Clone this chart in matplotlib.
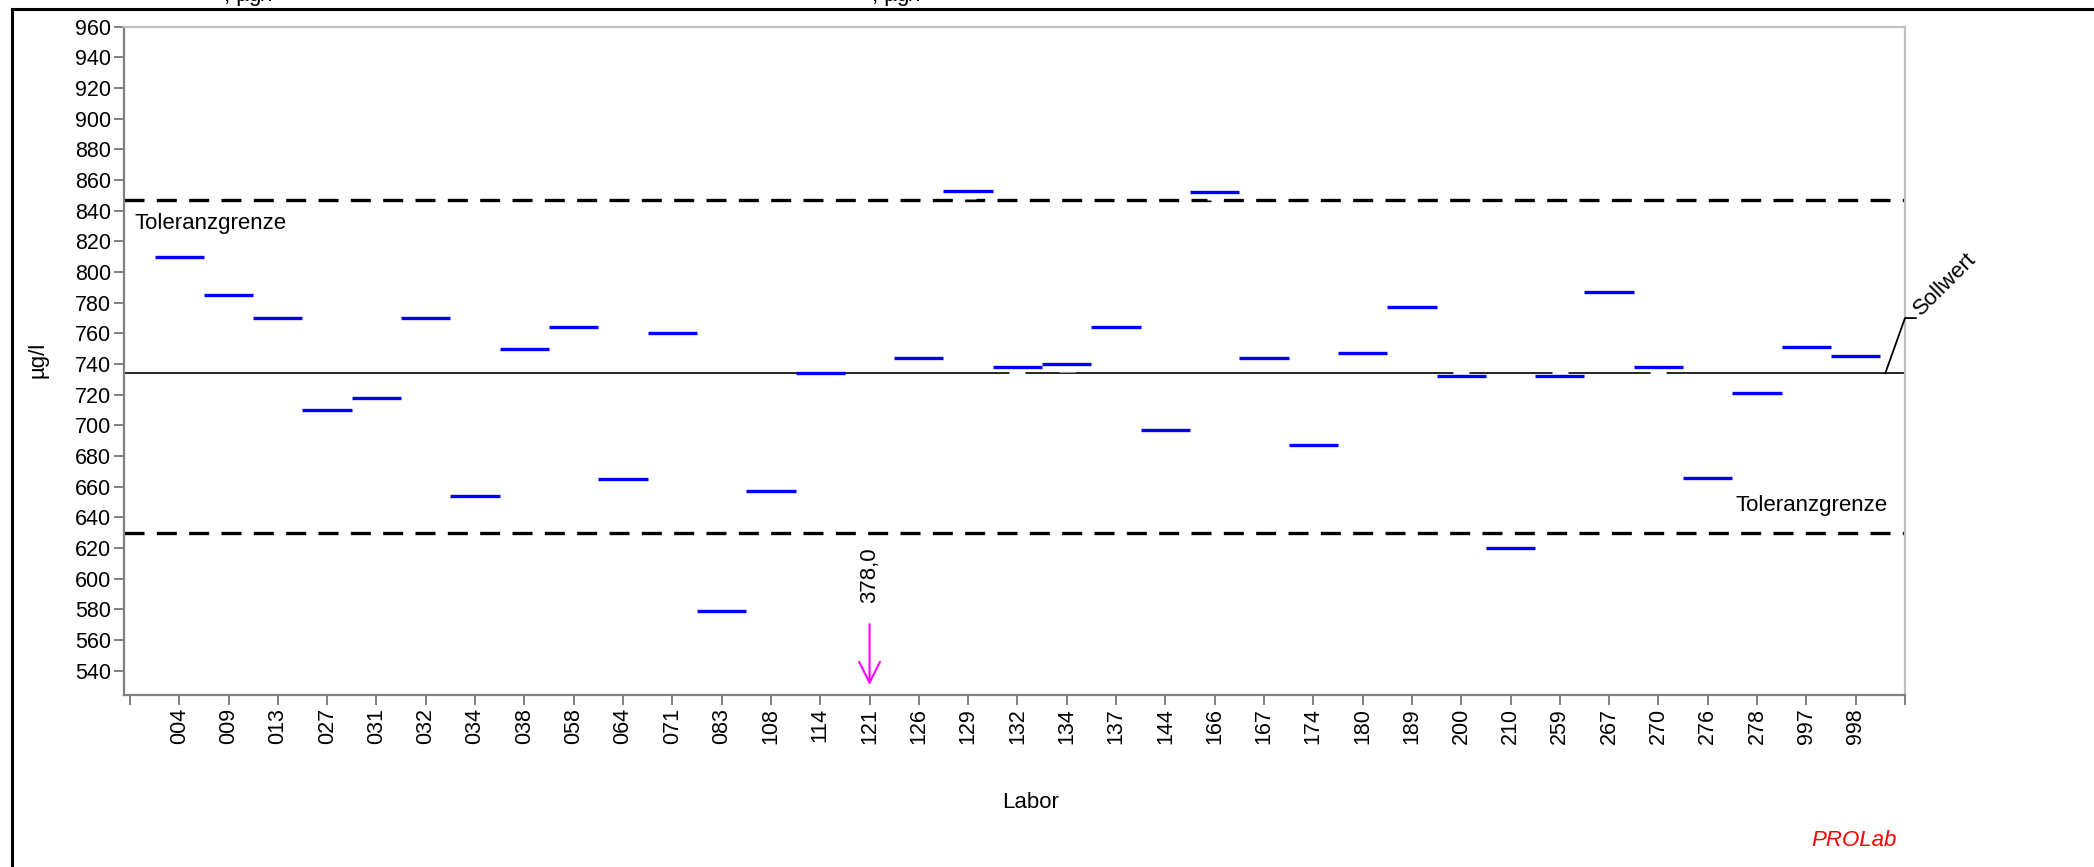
import matplotlib
matplotlib.use('Agg')
import matplotlib.pyplot as plt
from matplotlib.lines import Line2D

plt.rcParams['font.family'] = ['Liberation Sans', 'DejaVu Sans']

# Laborcodes und Messwerte (µg/l)
labore = ['004', '009', '013', '027', '031', '032', '034', '038', '058', '064',
          '071', '083', '108', '114', '121', '126', '129', '132', '134', '137',
          '144', '166', '167', '174', '180', '189', '200', '210', '259', '267',
          '270', '276', '278', '997', '998']
werte = [810, 785, 770, 710, 718, 770, 654, 750, 764, 665,
         760, 579, 657, 734, 378.0, 744, 853, 738, 740, 764,
         697, 852, 744, 687, 747, 777, 732.5, 620, 732.5, 787,
         738, 666, 721, 751, 745.5]

sollwert = 734.0
tol_oben = 847.3
tol_unten = 629.8
y_ticks = list(range(540, 961, 20))

W, H = 2094, 867
fig = plt.figure(figsize=(W / 100, H / 100), dpi=100)
ax = fig.add_axes([124 / W, 1 - 695 / H, (1905 - 124) / W, (695 - 26.7) / H])

ymin, ymax = 524.2, 960
n = len(labore)
ax.set_xlim(-0.12, n + 1)
ax.set_ylim(ymin, ymax)

# Sollwert und Toleranzgrenzen
ax.axhline(sollwert, color='black', lw=1.2, zorder=2)
for g in (tol_oben, tol_unten):
    ax.axhline(g, color='black', lw=2.4, dashes=(6.0, 3.7), zorder=2)

xs = list(range(1, n + 1))
drin = [(x, v) for x, v in zip(xs, werte) if ymin <= v <= ymax]
raus = [(x, v) for x, v in zip(xs, werte) if v < ymin or v > ymax]

# weisse Marker hinter den Balken
ax.plot([x for x, _ in drin], [v for _, v in drin], 's', ms=11.5,
        mfc='white', mec='none', zorder=3)
ax.hlines([v for _, v in drin], [x - 0.5 for x, _ in drin],
          [x + 0.5 for x, _ in drin], colors='#0000ff', lw=2.4,
          capstyle='butt', zorder=4)

# Werte ausserhalb des Bereichs
for x, v in raus:
    ax.annotate('', xy=(x, 0.015), xytext=(x, 0.106),
                xycoords=('data', 'axes fraction'),
                textcoords=('data', 'axes fraction'),
                arrowprops=dict(arrowstyle='->,head_length=1.5,head_width=0.75',
                                color='#ff00ff', lw=1.5, shrinkA=0, shrinkB=0))
    ax.text(x, 0.18, f'{v:.1f}'.replace('.', ','), rotation=90,
            transform=ax.get_xaxis_transform(), ha='center', va='center',
            fontsize=16)

ax.text(0.006, tol_oben - 9, 'Toleranzgrenze', transform=ax.get_yaxis_transform(),
        ha='left', va='top', fontsize=16)
ax.text(0.990, tol_unten + 11, 'Toleranzgrenze', transform=ax.get_yaxis_transform(),
        ha='right', va='bottom', fontsize=16)

# Sollwert-Hinweis
x_end = n + 1
ax.plot([x_end - 0.4, x_end, x_end + 0.22], [sollwert, sollwert + 36, sollwert + 36],
        color='black', lw=1.3, clip_on=False, zorder=5)
ax.text(x_end + 0.4, sollwert + 35, 'Sollwert', rotation=45, rotation_mode='anchor',
        ha='left', va='bottom', fontsize=16)

ax.set_xticks(range(0, n + 2))
ax.set_xticklabels([''] + labore + [''], rotation=90, fontsize=15.5)
ax.set_yticks(y_ticks)
ax.set_yticklabels([str(t) for t in y_ticks], fontsize=15.5)
ax.tick_params(axis='both', direction='out', length=7.5, width=1.4,
               color='#808080', pad=2)

for s in ('left', 'bottom'):
    ax.spines[s].set_color('#808080')
    ax.spines[s].set_linewidth(1.6)
for s in ('top', 'right'):
    ax.spines[s].set_color('#c0c0c0')
    ax.spines[s].set_linewidth(1.6)

fig.text(38 / W, 1 - 360 / H, 'µg/l', rotation=90, ha='center', va='center',
         fontsize=16)
fig.text(1031 / W, 1 - 803 / H, 'Labor', ha='center', va='center', fontsize=16)
fig.text(1854 / W, 1 - 840 / H, 'PROLab', color='red', style='italic',
         ha='center', va='center', fontsize=16)

# abgeschnittene Kopfzeile
fig.text(224 / W, 1 - 1 / H, ', µg/l', ha='left', va='baseline', fontsize=16)
fig.text(872 / W, 1 - 1 / H, ', µg/l', ha='left', va='baseline', fontsize=16)

# Rahmen
fig.add_artist(Line2D([12 / W, 12 / W], [0, 1 - 9 / H], transform=fig.transFigure,
                      color='black', lw=2.2))
fig.add_artist(Line2D([12 / W, 1], [1 - 9 / H, 1 - 9 / H], transform=fig.transFigure,
                      color='black', lw=2.2))

fig.savefig('out.png', dpi=100)
